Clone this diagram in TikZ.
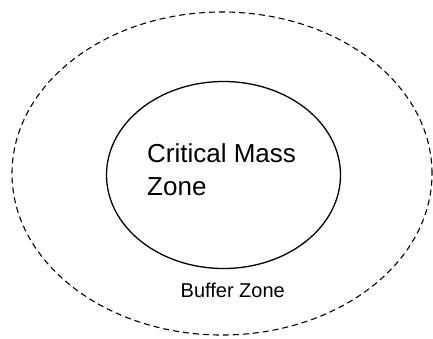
\documentclass[tikz,border=0pt]{standalone}
\usepackage{fontspec}
\setmainfont{Liberation Sans}
\usetikzlibrary{shapes.geometric}

\begin{document}
\begin{tikzpicture}[
	x=1pt, y=-1pt,
	zone/.style={draw, ellipse, inner sep=0pt},
	every node/.style={align=left}
	]
	\useasboundingbox (0,0) rectangle (433,338);
	% outer and inner zones
	\node[zone, dashed, dash pattern=on 6pt off 4pt, line width=1.1pt,
		minimum width=420pt, minimum height=323pt] (buffer) at (222,173.5) {};
	\node[zone, line width=1.3pt, minimum width=234pt, minimum height=187pt] (critical) at (223.5,175) {};
	% labels
	\node[anchor=base west, inner sep=0pt, font=\fontsize{26}{33}\selectfont] (critlabel) at (147,195) {Critical Mass\\Zone};
	\node[anchor=base west, inner sep=0pt, font=\fontsize{20}{24}\selectfont] (buflabel) at (180.5,297) {Buffer Zone};
\end{tikzpicture}
\end{document}
